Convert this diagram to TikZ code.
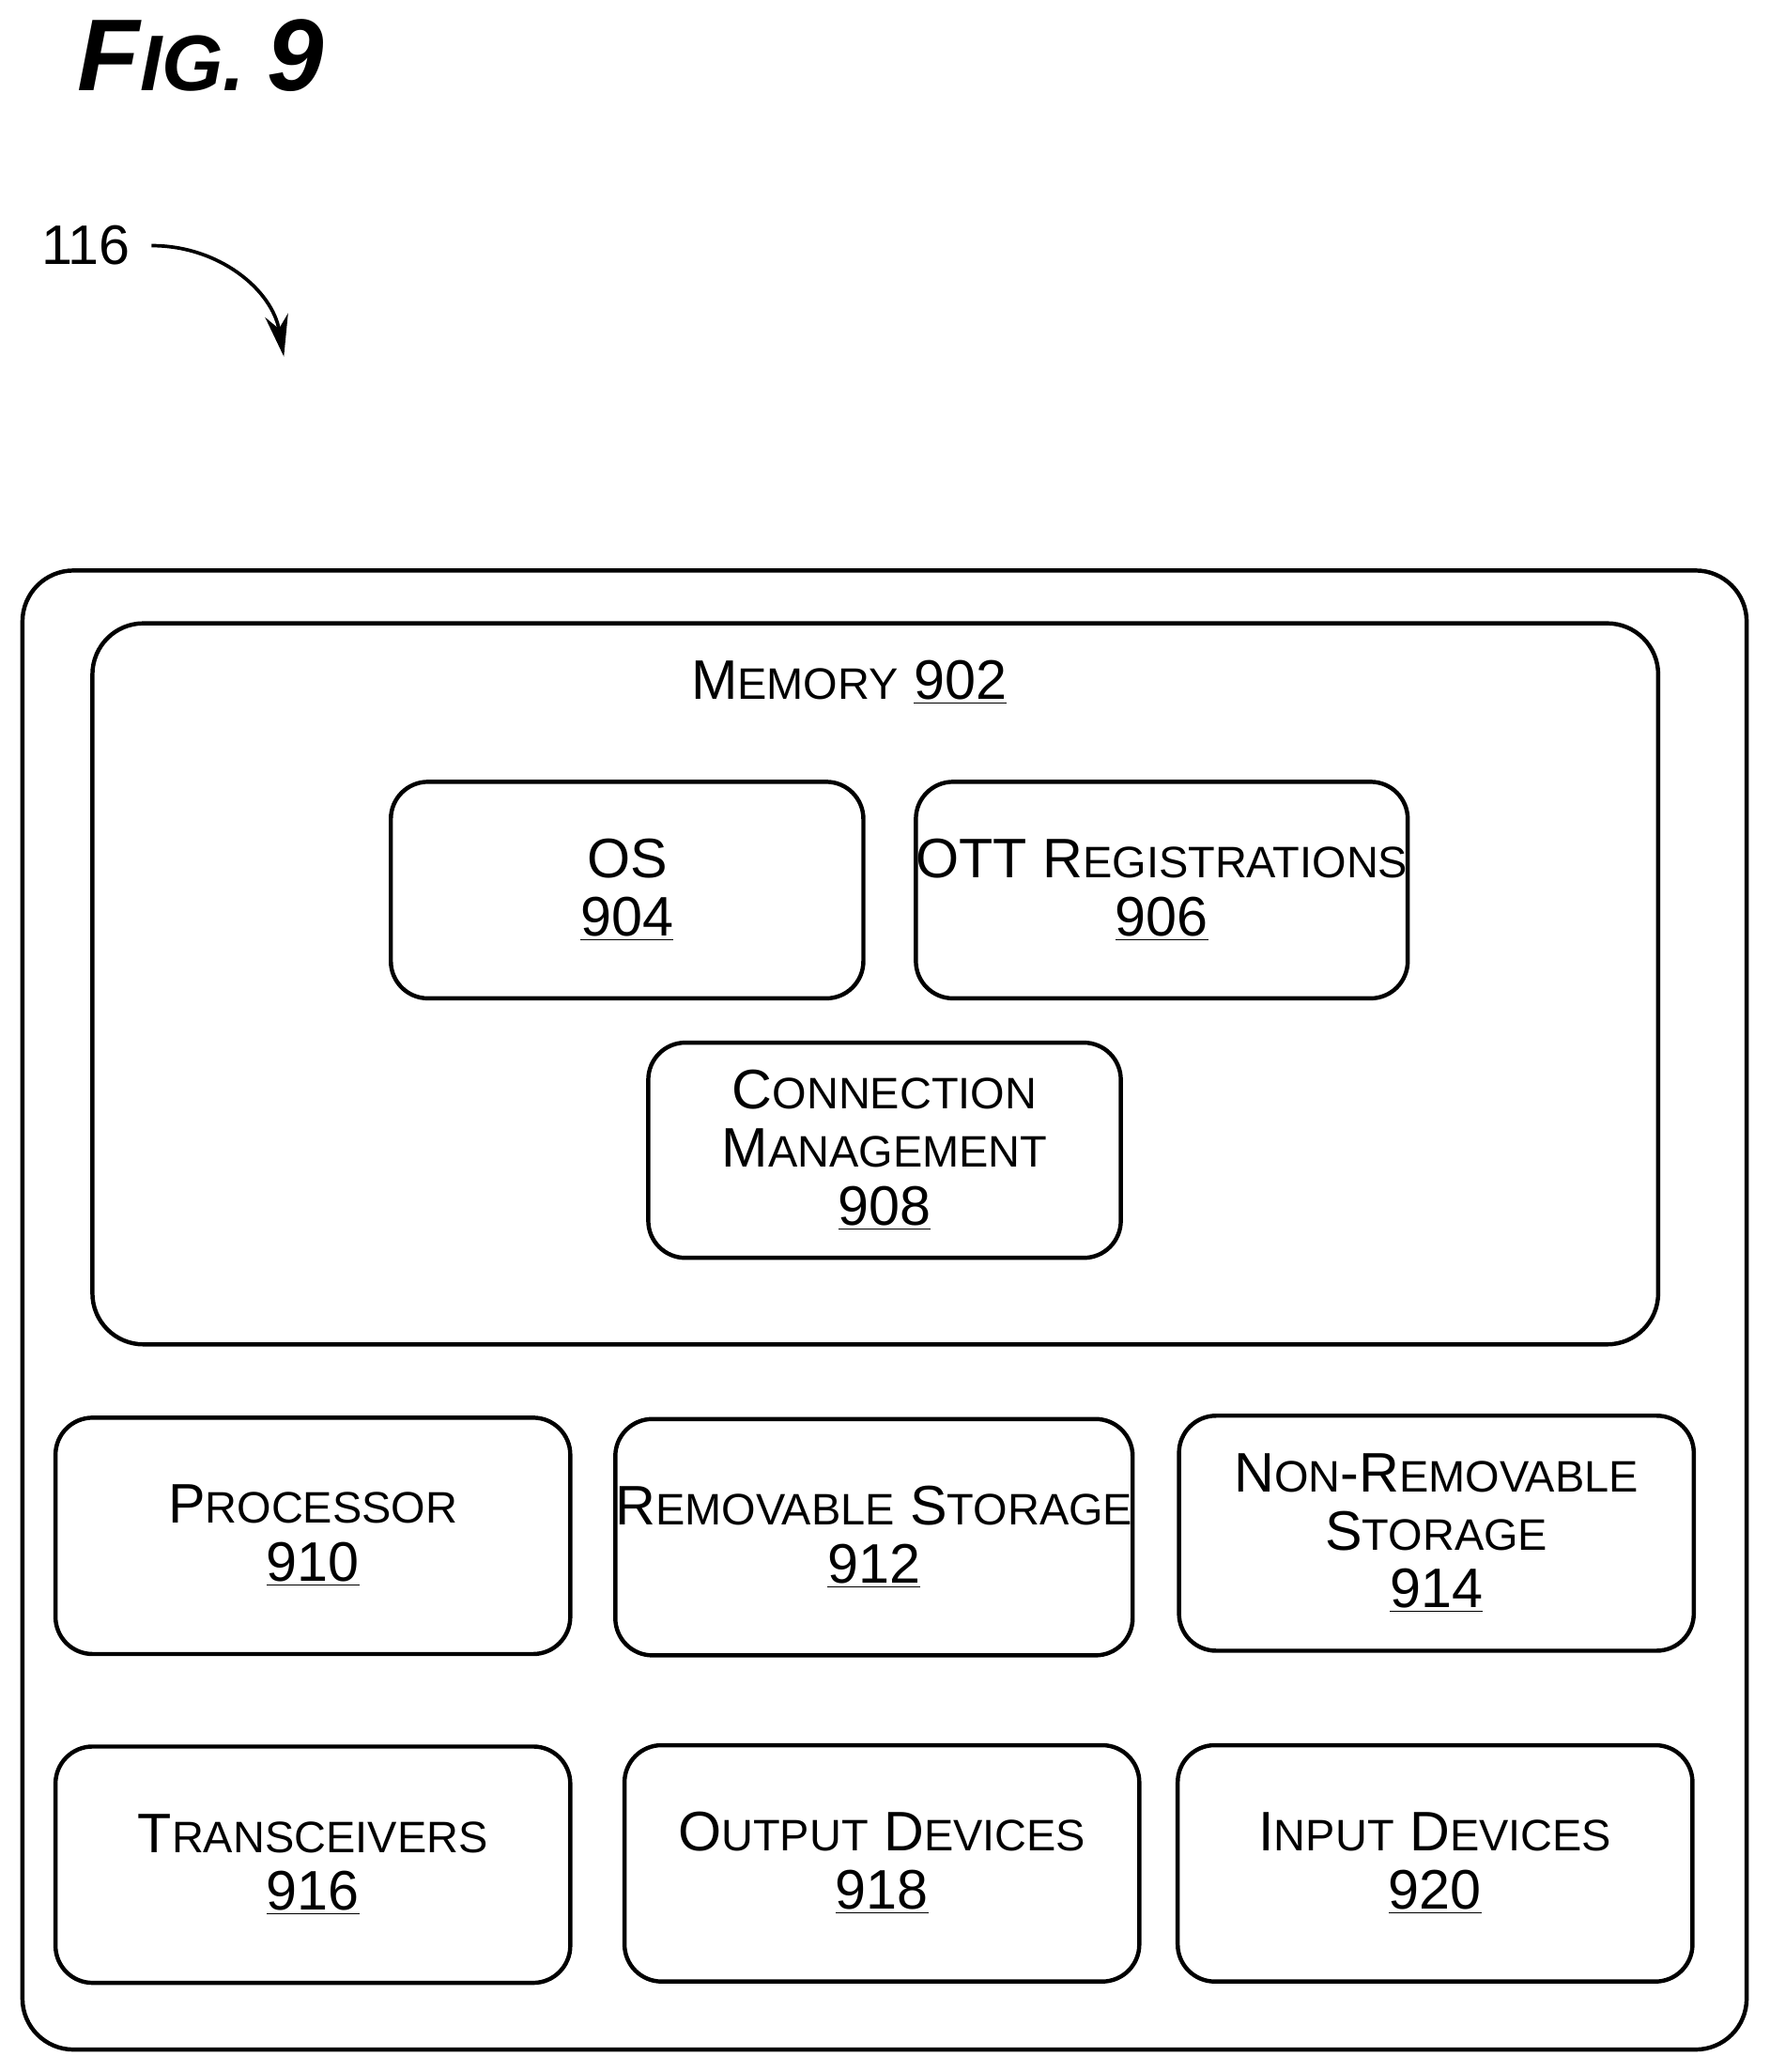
\documentclass[tikz,border=0pt]{standalone}
\usepackage{fontspec}
\setmainfont{Liberation Sans}
\usetikzlibrary{arrows.meta}

% fake small caps: first letter big, rest small
\newcommand{\sct}[2]{#1{\fontsize{19}{25}\selectfont #2}}

\tikzset{
  blk/.style={draw, line width=1.8pt, rounded corners=16pt, align=center,
    font=\fontsize{24}{25}\selectfont, inner sep=0pt},
  outerblk/.style={draw, line width=1.8pt, rounded corners=22pt},
}

\begin{document}
\begin{tikzpicture}[x=0.02cm, y=-0.02cm]
    \useasboundingbox (0,0) rectangle (1340,1569);

    % title and reference label
    \node[font=\fontsize{44}{48}\selectfont\bfseries\itshape] (fig) at (152,42) {F\fontsize{34}{40}\selectfont IG. \fontsize{44}{48}\selectfont 9};
    \node[font=\fontsize{24}{26}\selectfont] (lbl) at (65,186) {116};
    \coordinate (tip) at (215,270);
    \draw[line width=1.5pt, -{Stealth[length=18pt,width=10pt]}] (lbl.east) ++(10,0) to[out=0, in=100] (tip);

    % device outline and memory
    \draw[outerblk] (17,432) rectangle (1323,1552);
    \draw[outerblk] (70,472) rectangle (1256,1018);
    \node[font=\fontsize{24}{25}\selectfont] (mem) at (643,517) {\sct{M}{EMORY} \underline{902}};

    % memory contents
    \node[blk, minimum width=7.16cm, minimum height=3.28cm] (os) at (475,674) {OS\\\underline{904}};
    \node[blk, minimum width=7.16cm, minimum height=3.28cm] (ott) at (880,674) {OTT \sct{R}{EGISTRATIONS}\\\underline{906}};
    \node[blk, minimum width=7.16cm, minimum height=3.26cm] (conn) at (670,871) {\sct{C}{ONNECTION}\\\sct{M}{ANAGEMENT}\\\underline{908}};

    % other components
    \node[blk, minimum width=7.8cm, minimum height=3.58cm] (proc) at (237,1163) {\sct{P}{ROCESSOR}\\\underline{910}};
    \node[blk, minimum width=7.8cm, minimum height=3.58cm] (rem) at (662,1164) {\sct{R}{EMOVABLE} \sct{S}{TORAGE}\\\underline{912}};
    \node[blk, minimum width=7.8cm, minimum height=3.56cm] (nonrem) at (1088,1161) {\sct{N}{ON}-\sct{R}{EMOVABLE}\\\sct{S}{TORAGE}\\\underline{914}};
    \node[blk, minimum width=7.8cm, minimum height=3.58cm] (trx) at (237,1412) {\sct{T}{RANSCEIVERS}\\\underline{916}};
    \node[blk, minimum width=7.8cm, minimum height=3.58cm] (out) at (668,1411) {\sct{O}{UTPUT} \sct{D}{EVICES}\\\underline{918}};
    \node[blk, minimum width=7.8cm, minimum height=3.58cm] (in) at (1087,1411) {\sct{I}{NPUT} \sct{D}{EVICES}\\\underline{920}};
\end{tikzpicture}
\end{document}
